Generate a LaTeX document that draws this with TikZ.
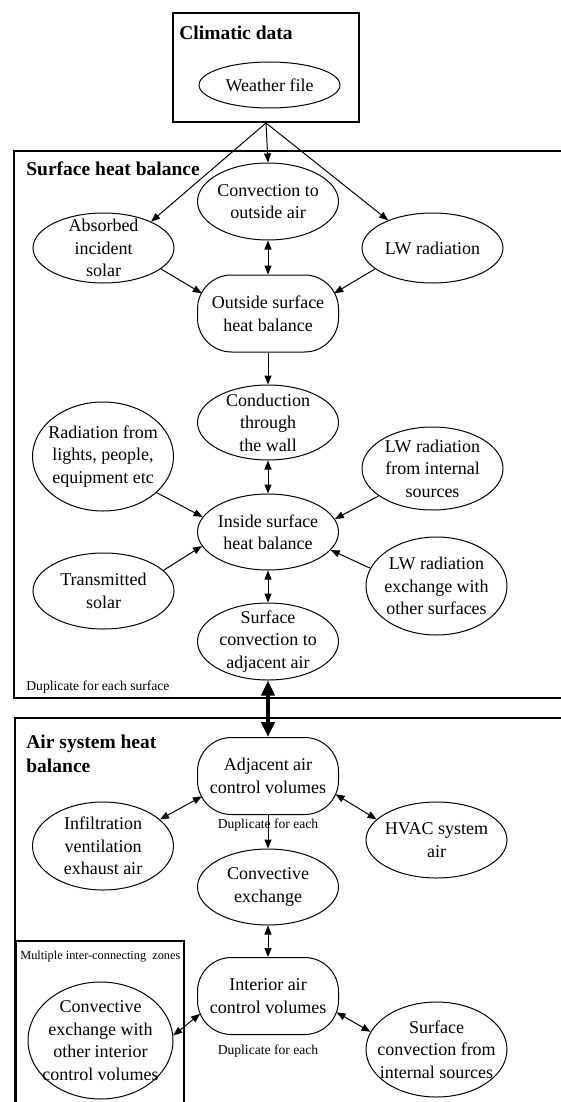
\documentclass[tikz,border=0pt]{standalone}
\usepackage{fontspec}
\setmainfont{Liberation Serif}
\usetikzlibrary{shapes.geometric,arrows.meta}
\begin{document}
\begin{tikzpicture}[x=.5pt,y=-.5pt,
  bub/.style={draw,ellipse,line width=.5pt,inner sep=-12pt,minimum width=70.5pt,align=center,font=\fontsize{9}{11.25}\selectfont},
  pill/.style={draw,rectangle,rounded corners=17pt,line width=.5pt,inner sep=0pt,minimum width=70.5pt,minimum height=38.5pt,align=center,font=\fontsize{9}{11.25}\selectfont},
  frame/.style={line width=1pt},
  ttl/.style={anchor=base west,inner sep=0pt,align=left,font=\fontsize{9.75}{12}\selectfont\bfseries},
  note/.style={inner sep=0pt,font=\fontsize{6.8}{8}\selectfont},
  arr/.style={-{Triangle[length=4.5pt,width=3.5pt]},line width=.5pt},
  darr/.style={{Triangle[length=4.5pt,width=3.5pt]}-{Triangle[length=4.5pt,width=3.5pt]},line width=.5pt},
  bigarr/.style={{Triangle[length=7.5pt,width=6.5pt]}-{Triangle[length=7.5pt,width=6.5pt]},line width=2pt}]
\useasboundingbox (0,0) rectangle (561,1102);
\clip (0,0) rectangle (561,1102);
\node[draw,frame,minimum width=93pt,minimum height=54.5pt] (clim) at (266,67.5) {};
\node[ttl] (climt) at (179,40) {Climatic data};
\node[bub,minimum height=23pt] (wf) at (269.5,85) {Weather file};
\draw[frame] (14,151) rectangle (600,698);
\node[ttl] (surft) at (26,175.5) {Surface heat balance};
\node[bub,minimum height=38.5pt] (conv) at (268,201.5) {Convection to\\outside air};
\node[bub,minimum height=35pt] (abs) at (103.5,248) {Absorbed\\incident\\solar};
\node[bub,minimum height=35pt] (lw) at (432.5,248) {LW radiation};
\node[pill] (osh) at (268,313.5) {Outside surface\\heat balance};
\node[bub,minimum height=37.5pt] (cond) at (268,422.5) {Conduction\\through\\the wall};
\node[bub,minimum height=54.5pt] (rad) at (103,456.5) {Radiation from\\lights, people,\\equipment etc};
\node[bub,minimum height=41.5pt] (lwi) at (432.5,468.5) {LW radiation\\from internal\\sources};
\node[bub,minimum height=38pt] (ins) at (268,532) {Inside surface\\heat balance};
\node[bub,minimum height=38pt] (tr) at (103.5,591) {Transmitted\\solar};
\node[bub,minimum height=49pt] (lwx) at (436.5,586) {LW radiation\\exchange with\\other surfaces};
\node[bub,minimum height=38.5pt] (scv) at (268,641.5) {Surface\\convection to\\adjacent air};
\node[note,anchor=base west] (dups) at (26,690) {Duplicate for each surface};
\draw[frame] (15,718) rectangle (600,1150);
\node[ttl] (airt) at (26,772) {Air system heat\\balance};
\node[pill] (adj) at (268,776) {Adjacent air\\control volumes};
\node[note,anchor=base] (dupa) at (268,828) {Duplicate for each};
\node[bub,minimum height=44pt] (inf) at (103,846) {Infiltration\\ventilation\\exhaust air};
\node[bub,minimum height=38pt] (hvac) at (436.5,840) {HVAC system\\air};
\node[bub,minimum height=38pt] (cex) at (268,887) {Convective\\exchange};
\draw[frame] (16,941) rectangle (184,1150);
\node[note,anchor=base west,font=\fontsize{6.15}{7}\selectfont] (zonet) at (20,959) {Multiple inter-connecting\ \ zones};
\node[bub,minimum width=72.5pt,minimum height=58.5pt] (cev) at (100.5,1040.5) {Convective\\exchange with\\other interior\\control volumes};
\node[pill] (int) at (268,996) {Interior air\\control volumes};
\node[note,anchor=base] (dupi) at (268,1054) {Duplicate for each};
\node[bub,minimum height=47.5pt] (scf) at (436.5,1049.5) {Surface\\convection from\\internal sources};
\draw[arr] (clim.south) -- (abs.29);
\draw[arr] (clim.south) -- (conv.north);
\draw[arr] (clim.south) -- (lw.148);
\draw[darr] (conv) -- (osh);
\draw[arr,shorten >=-2.8pt] (abs.-20) -- (osh.162);
\draw[arr,shorten >=-2.8pt] (lw.-160) -- (osh.18);
\draw[arr] (osh) -- (cond);
\draw[darr] (cond) -- (ins);
\draw[arr] (rad.-34) -- (ins.167);
\draw[arr] (lwi.-153) -- (ins.11);
\draw[arr] (tr.19) -- (ins.-168);
\draw[arr] (lwx.165) -- (ins.-16);
\draw[darr] (ins) -- (scv);
\draw[bigarr] (scv) -- (adj);
\draw[darr,shorten <=-2.8pt] (adj.-162) -- (inf.25);
\draw[darr,shorten <=-2pt] (adj.-16) -- (hvac.161);
\draw[arr] (adj) -- (cex);
\draw[darr] (cex) -- (int);
\draw[darr,shorten <=-2pt] (int.-164) -- (cev.4);
\draw[darr,shorten <=-1.4pt] (int.-14) -- (scf.165);
\end{tikzpicture}
\end{document}
